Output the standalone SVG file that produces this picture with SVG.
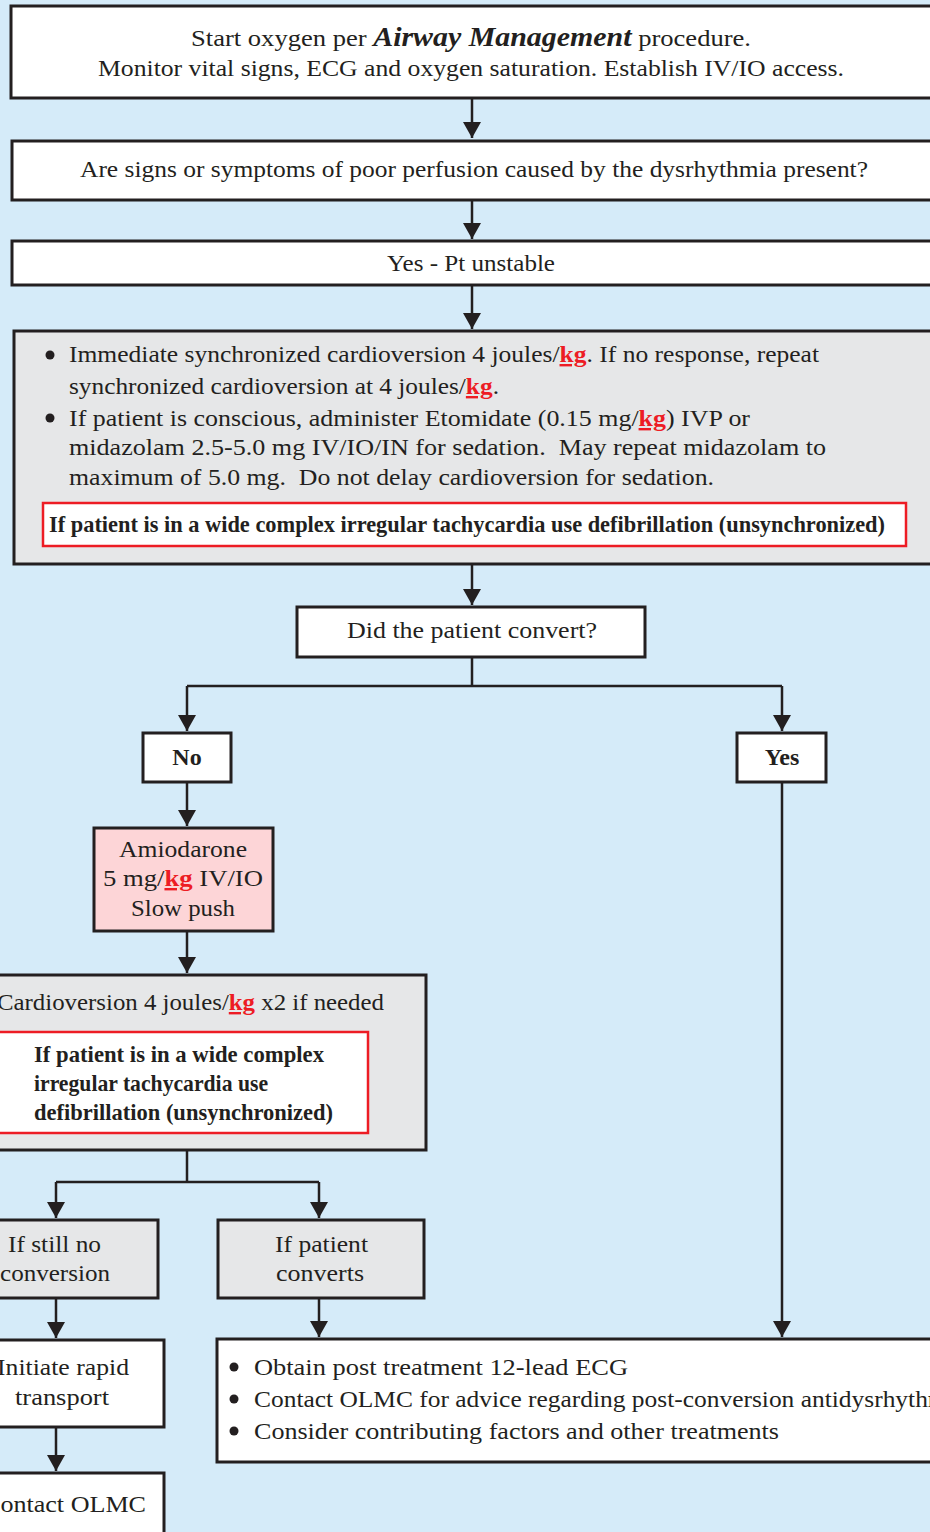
<svg xmlns="http://www.w3.org/2000/svg" width="930" height="1532" viewBox="0 0 930 1532">
  <style>
    .bg { fill: #d5ebf9; }
    .box { stroke: #231f20; stroke-width: 3; }
    .white { fill: #ffffff; }
    .grey { fill: #e6e7e8; }
    .pink { fill: #fdd5d7; }
    .alert { fill: #ffffff; stroke: #ed1c24; stroke-width: 2.5; }
    text { font-family: "Liberation Serif", "Times New Roman", serif; font-size: 24px; fill: #231f20; }
    .c { text-anchor: middle; }
    .b { font-weight: bold; }
    .kg { font-weight: bold; fill: #ed1c24; text-decoration: underline; }
    .bi { font-weight: bold; font-style: italic; font-size: 27px; }
    .wire { fill: none; stroke: #231f20; stroke-width: 2.5; }
    .dot { fill: #231f20; }
  </style>
  <defs>
    <marker id="arrow" markerUnits="userSpaceOnUse" markerWidth="18" markerHeight="18" viewBox="0 0 18 18" refX="16" refY="9" orient="auto">
      <path d="M0,0 L16,9 L0,18 Z" fill="#231f20"/>
    </marker>
  </defs>

  <rect class="bg" x="0" y="0" width="930" height="1532"/>

  <!-- connectors -->
  <g id="connectors">
    <path class="wire" d="M472,98 V138" marker-end="url(#arrow)"/>
    <path class="wire" d="M472,200 V239" marker-end="url(#arrow)"/>
    <path class="wire" d="M472,285 V329" marker-end="url(#arrow)"/>
    <path class="wire" d="M472,564 V605" marker-end="url(#arrow)"/>
    <path class="wire" d="M472,657 V686 M187,686 H782"/>
    <path class="wire" d="M187,686 V731" marker-end="url(#arrow)"/>
    <path class="wire" d="M782,686 V731" marker-end="url(#arrow)"/>
    <path class="wire" d="M187,782 V826" marker-end="url(#arrow)"/>
    <path class="wire" d="M187,931 V973" marker-end="url(#arrow)"/>
    <path class="wire" d="M187,1150 V1182 M56,1182 H319"/>
    <path class="wire" d="M56,1182 V1218" marker-end="url(#arrow)"/>
    <path class="wire" d="M319,1182 V1218" marker-end="url(#arrow)"/>
    <path class="wire" d="M56,1298 V1338" marker-end="url(#arrow)"/>
    <path class="wire" d="M319,1298 V1337" marker-end="url(#arrow)"/>
    <path class="wire" d="M56,1427 V1471" marker-end="url(#arrow)"/>
    <path class="wire" d="M782,782 V1337" marker-end="url(#arrow)"/>
  </g>

  <!-- start: oxygen and monitoring -->
  <g id="start">
    <rect class="box white" x="11" y="6" width="940" height="92"/>
    <text x="191" y="46" textLength="560" lengthAdjust="spacingAndGlyphs">Start oxygen per <tspan class="bi">Airway Management</tspan> procedure.</text>
    <text x="98" y="76" textLength="746" lengthAdjust="spacingAndGlyphs">Monitor vital signs, ECG and oxygen saturation. Establish IV/IO access.</text>
  </g>

  <!-- perfusion question -->
  <g id="perfusion">
    <rect class="box white" x="12" y="141" width="940" height="59"/>
    <text x="80" y="177" textLength="788" lengthAdjust="spacingAndGlyphs">Are signs or symptoms of poor perfusion caused by the dysrhythmia present?</text>
  </g>

  <!-- unstable -->
  <g id="unstable">
    <rect class="box white" x="12" y="241" width="940" height="44"/>
    <text x="387" y="271" textLength="168" lengthAdjust="spacingAndGlyphs">Yes - Pt unstable</text>
  </g>

  <!-- immediate cardioversion -->
  <g id="cardioversion">
    <rect class="box grey" x="14" y="331" width="940" height="233"/>
    <circle class="dot" cx="50" cy="355" r="4.5"/>
    <text x="69" y="362" textLength="750" lengthAdjust="spacingAndGlyphs">Immediate synchronized cardioversion 4 joules/<tspan class="kg">kg</tspan>. If no response, repeat</text>
    <text x="69" y="394" textLength="430" lengthAdjust="spacingAndGlyphs">synchronized cardioversion at 4 joules/<tspan class="kg">kg</tspan>.</text>
    <circle class="dot" cx="50" cy="418" r="4.5"/>
    <text x="69" y="426" textLength="681" lengthAdjust="spacingAndGlyphs">If patient is conscious, administer Etomidate (0.15 mg/<tspan class="kg">kg</tspan>) IVP or</text>
    <text x="69" y="455" textLength="757" lengthAdjust="spacingAndGlyphs" xml:space="preserve">midazolam 2.5-5.0 mg IV/IO/IN for sedation.  May repeat midazolam to</text>
    <text x="69" y="485" textLength="645" lengthAdjust="spacingAndGlyphs" xml:space="preserve">maximum of 5.0 mg.  Do not delay cardioversion for sedation.</text>
    <rect class="alert" x="43" y="503" width="863" height="43"/>
    <text class="b" x="49" y="532" textLength="836" lengthAdjust="spacingAndGlyphs">If patient is in a wide complex irregular tachycardia use defibrillation (unsynchronized)</text>
  </g>

  <!-- conversion question -->
  <g id="converted">
    <rect class="box white" x="297" y="607" width="348" height="50"/>
    <text x="347" y="638" textLength="250" lengthAdjust="spacingAndGlyphs">Did the patient convert?</text>
  </g>

  <g id="no">
    <rect class="box white" x="143" y="733" width="88" height="49"/>
    <text class="b c" x="187" y="765">No</text>
  </g>

  <g id="yes">
    <rect class="box white" x="737" y="733" width="89" height="49"/>
    <text class="b c" x="782" y="765">Yes</text>
  </g>

  <!-- amiodarone -->
  <g id="amiodarone">
    <rect class="box pink" x="94" y="828" width="179" height="103"/>
    <text x="119" y="857" textLength="128" lengthAdjust="spacingAndGlyphs">Amiodarone</text>
    <text x="103" y="886" textLength="160" lengthAdjust="spacingAndGlyphs">5 mg/<tspan class="kg">kg</tspan> IV/IO</text>
    <text x="131" y="916" textLength="104" lengthAdjust="spacingAndGlyphs">Slow push</text>
  </g>

  <!-- repeat cardioversion -->
  <g id="repeat-cardioversion">
    <rect class="box grey" x="-10" y="975" width="436" height="175"/>
    <text x="-3" y="1010" textLength="387" lengthAdjust="spacingAndGlyphs">Cardioversion 4 joules/<tspan class="kg">kg</tspan> x2 if needed</text>
    <rect class="alert" x="-10" y="1032" width="378" height="101"/>
    <text class="b" x="34" y="1062" textLength="290" lengthAdjust="spacingAndGlyphs">If patient is in a wide complex</text>
    <text class="b" x="34" y="1091" textLength="234" lengthAdjust="spacingAndGlyphs">irregular tachycardia use</text>
    <text class="b" x="34" y="1120" textLength="299" lengthAdjust="spacingAndGlyphs">defibrillation (unsynchronized)</text>
  </g>

  <g id="no-conversion">
    <rect class="box grey" x="-10" y="1220" width="168" height="78"/>
    <text x="8" y="1252" textLength="93" lengthAdjust="spacingAndGlyphs">If still no</text>
    <text x="0" y="1281" textLength="110" lengthAdjust="spacingAndGlyphs">conversion</text>
  </g>

  <g id="patient-converts">
    <rect class="box grey" x="218" y="1220" width="206" height="78"/>
    <text x="275" y="1252" textLength="93" lengthAdjust="spacingAndGlyphs">If patient</text>
    <text x="276" y="1281" textLength="88" lengthAdjust="spacingAndGlyphs">converts</text>
  </g>

  <g id="transport">
    <rect class="box white" x="-10" y="1340" width="174" height="87"/>
    <text x="-3" y="1375" textLength="132" lengthAdjust="spacingAndGlyphs">Initiate rapid</text>
    <text x="15" y="1405" textLength="94" lengthAdjust="spacingAndGlyphs">transport</text>
  </g>

  <g id="contact-olmc">
    <rect class="box white" x="-10" y="1473" width="174" height="80"/>
    <text x="-17" y="1512" textLength="163" lengthAdjust="spacingAndGlyphs">Contact OLMC</text>
  </g>

  <!-- post conversion care -->
  <g id="post-conversion">
    <rect class="box white" x="217" y="1339" width="740" height="123"/>
    <circle class="dot" cx="234" cy="1367" r="4.5"/>
    <text x="254" y="1375" textLength="374" lengthAdjust="spacingAndGlyphs">Obtain post treatment 12-lead ECG</text>
    <circle class="dot" cx="234" cy="1399" r="4.5"/>
    <text x="254" y="1407" textLength="712" lengthAdjust="spacingAndGlyphs">Contact OLMC for advice regarding post-conversion antidysrhythmic</text>
    <circle class="dot" cx="234" cy="1431" r="4.5"/>
    <text x="254" y="1439" textLength="525" lengthAdjust="spacingAndGlyphs">Consider contributing factors and other treatments</text>
  </g>
</svg>
